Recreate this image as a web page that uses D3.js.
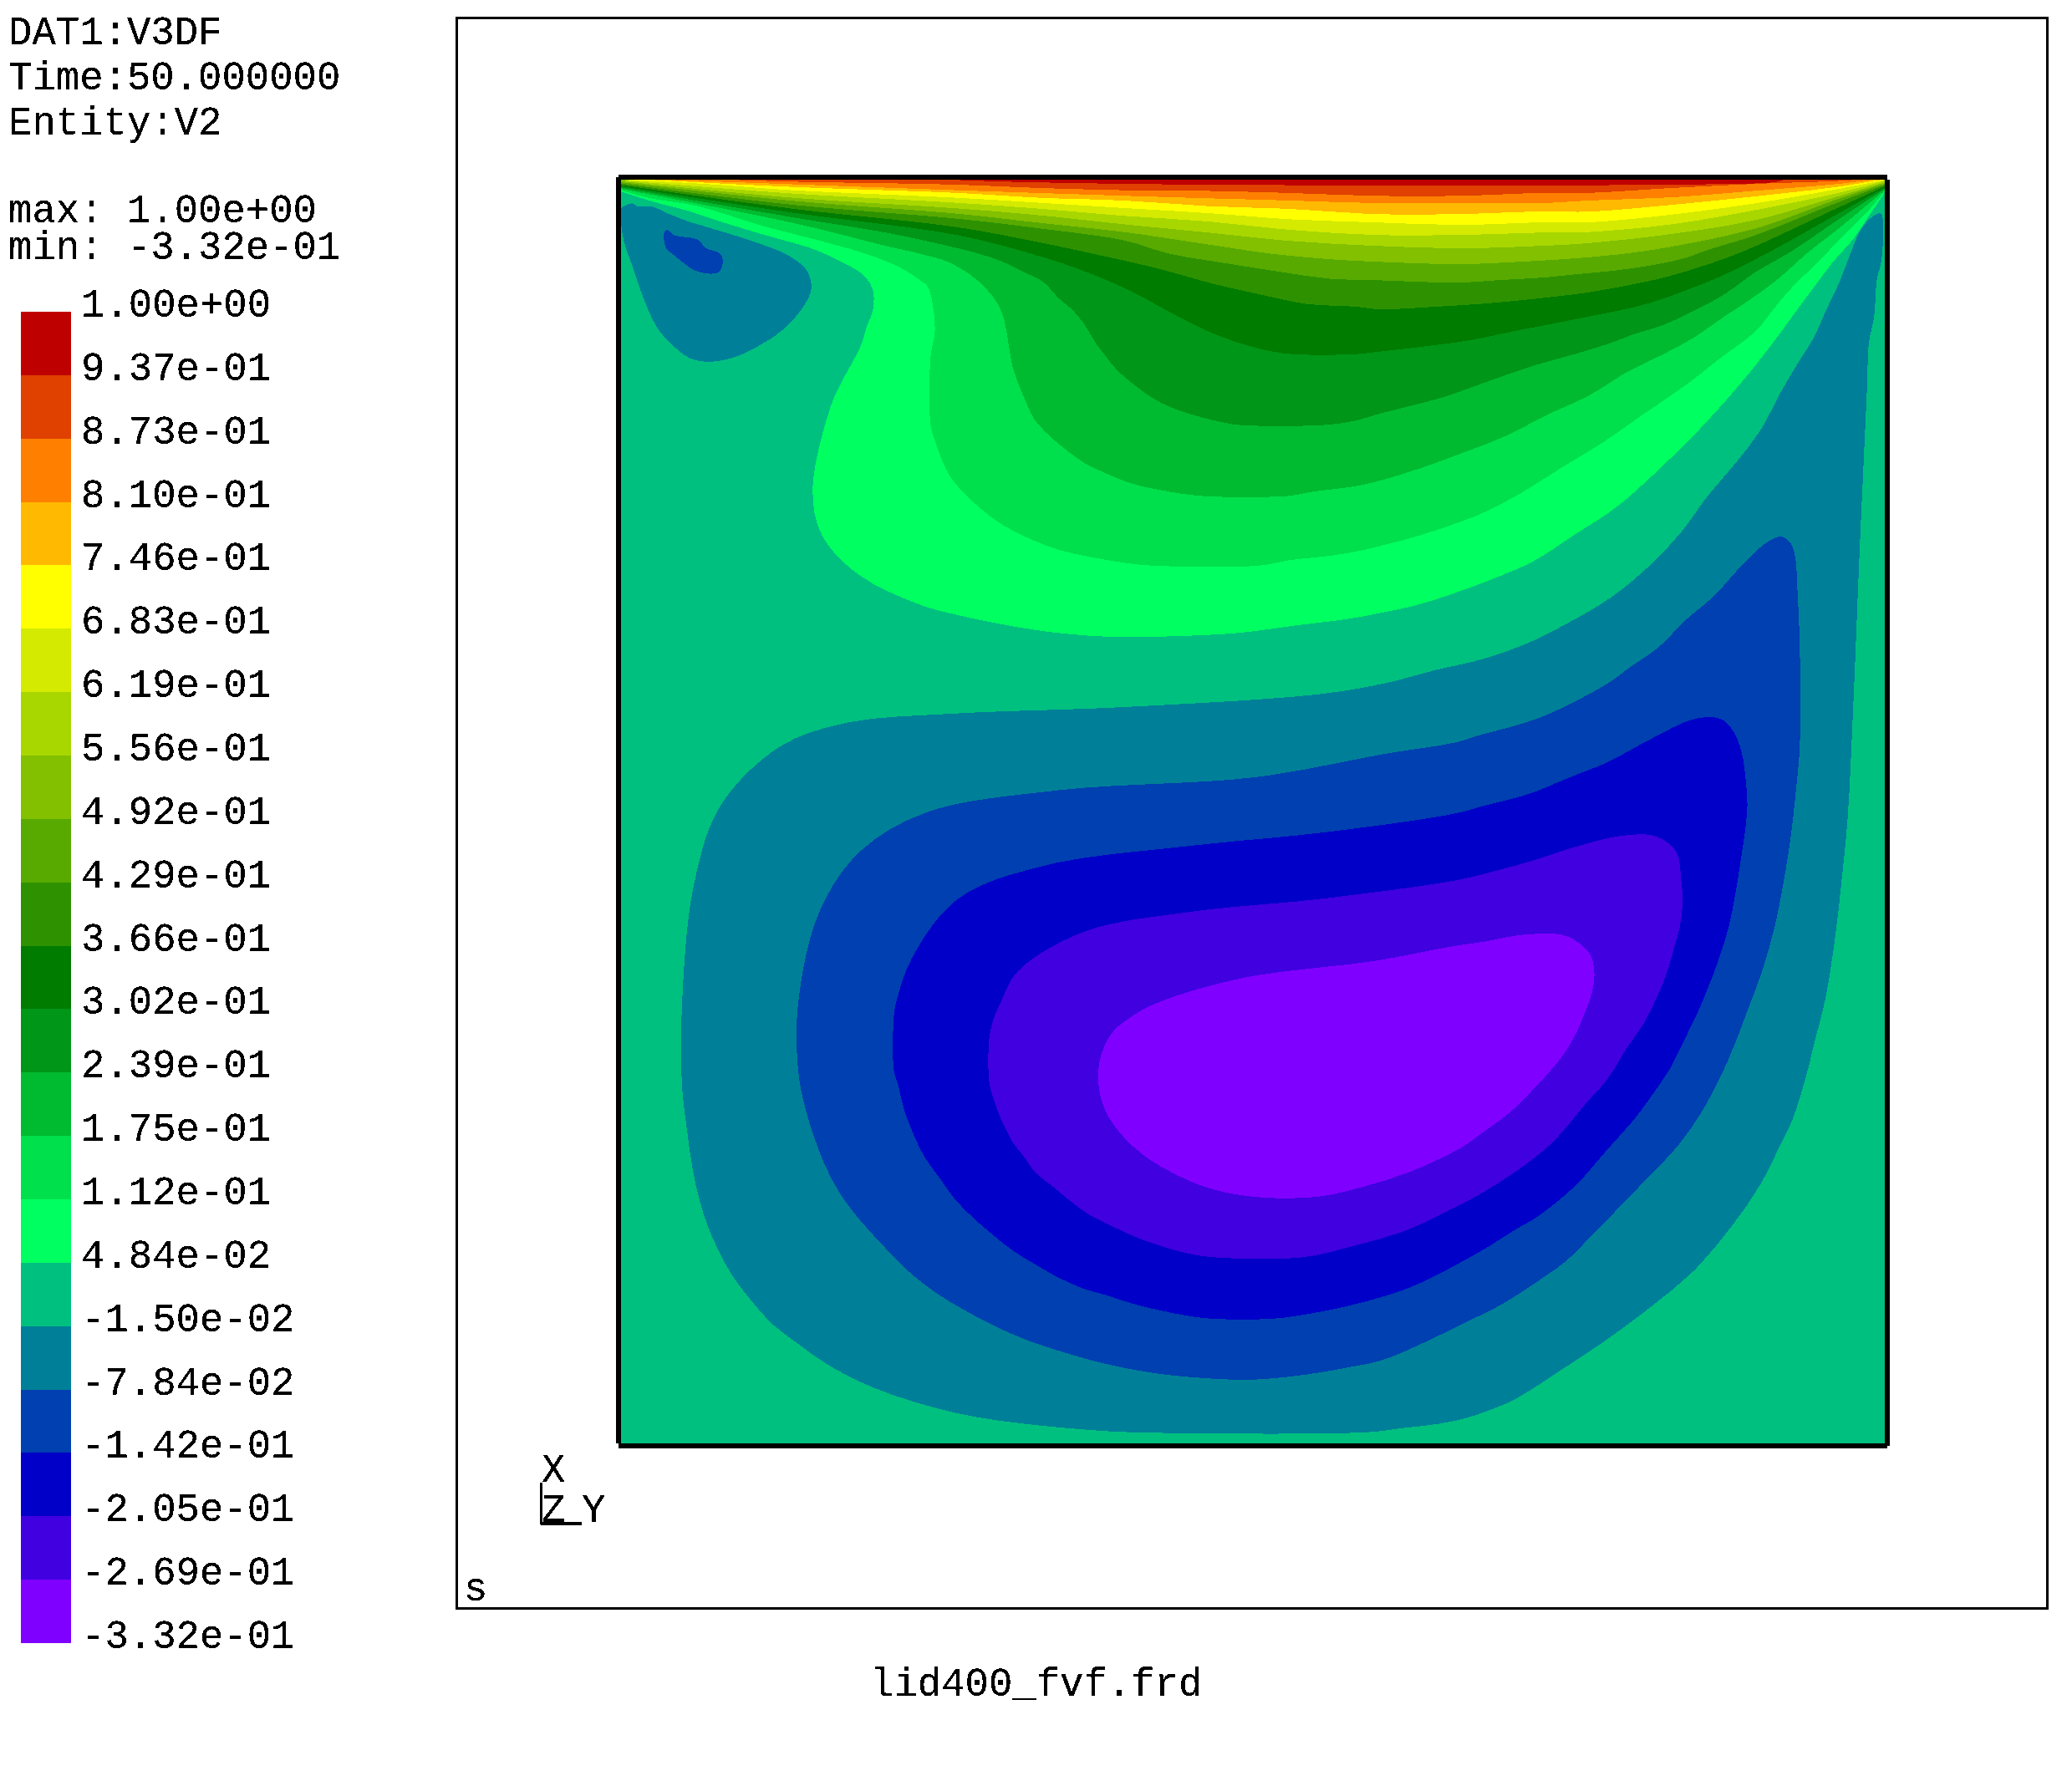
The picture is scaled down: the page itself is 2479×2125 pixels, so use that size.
<!DOCTYPE html>
<html>
<head>
<meta charset="utf-8">
<title>lid400_fvf.frd</title>
<script src="https://cdn.jsdelivr.net/npm/d3@7"></script>
<style>
  html, body { margin: 0; padding: 0; background: #fff; }
  svg { display: block; }
  text { font-family: "Liberation Mono", "DejaVu Sans Mono", monospace; font-size: 47.3px; fill: #000; }
</style>
</head>
<body>
<svg id="chart"></svg>
<script>
// header and footer text
const headerLines = ['DAT1:V3DF', 'Time:50.000000', 'Entity:V2'];
const rangeLines = ['max: 1.00e+00', 'min: -3.32e-01'];
const fileName = 'lid400_fvf.frd';
const viewLabel = 's';
const triadLabels = ['X', 'Z', 'Y'];

// legend, top to bottom
const legendLabels = ['1.00e+00', '9.37e-01', '8.73e-01', '8.10e-01', '7.46e-01', '6.83e-01', '6.19e-01',
    '5.56e-01', '4.92e-01', '4.29e-01', '3.66e-01', '3.02e-01', '2.39e-01', '1.75e-01', '1.12e-01',
    '4.84e-02', '-1.50e-02', '-7.84e-02', '-1.42e-01', '-2.05e-01', '-2.69e-01', '-3.32e-01'];
const bandColors = ['#bf0000', '#e04000', '#ff8000', '#ffb900', '#ffff00', '#d4ea00', '#a8d700', '#82c000',
    '#58aa00', '#2e9200', '#007c00', '#009617', '#00bb30', '#00e04c', '#00ff60', '#00c080', '#008098',
    '#0040b0', '#0000c8', '#4000e0', '#8000ff'];

// contours read off the cavity, as [distance from left wall, depth below the lid]
// lower edge of each band that hangs from the lid, band index = position in bandColors
const lid1 = [[248,0],[300,1.7],[444,3.8],[786,3.8],[874,1.7],[880,0]];
const lid2 = [[80,0],[130,1.5],[254,3.8],[317,6.3],[381,8],[444,8.5],[507,10.1],[570,12.2],[634,12.2],[697,10],[732,10],[795,6.3],[858,3.2],[920,1],[935,0]];
const lid3 = [[32,0],[130,3.5],[254,8],[317,10.1],[381,12.2],[444,14.1],[507,15.8],[570,17.7],[634,17.7],[697,17.7],[732,15.8],[795,13.3],[858,8.4],[921,3.2],[947,0]];
const lid4 = [[20,0],[130,5.5],[254,10],[317,13.7],[381,15.8],[444,20],[507,22.2],[570,26],[634,26],[697,24],[732,24.2],[795,19],[858,12.6],[921,5.3],[950,0.5]];
const lid5 = [[10,0.5],[60,3],[130,8],[254,13.7],[317,17.5],[381,21.5],[444,25.3],[507,30],[570,32.3],[634,34.2],[697,32.3],[732,32.3],[795,26.4],[858,17.9],[921,7],[952,1]];
const lid6 = [[6,1],[130,10.5],[254,17.5],[317,22],[381,27.4],[444,31.6],[507,38],[570,41.8],[634,41.8],[697,40],[732,39.6],[795,33.7],[858,23],[921,10],[954,1.5]];
const lid7 = [[3,1.5],[130,13.7],[254,21.7],[317,27],[381,33.8],[444,40],[507,46.4],[570,50],[634,51.9],[697,50],[732,48],[795,41],[858,30.6],[921,12.5],[956,2]];
const lid8 = [[0,2],[130,16],[254,25.7],[317,32.7],[381,39.7],[444,49],[491,55.9],[534,60],[570,62],[634,63.9],[678,62.2],[715,60],[755,56.5],[795,50.6],[858,37],[921,14.5],[956,3]];
const lid9 = [[0,3],[130,19],[254,29.5],[317,36.9],[381,46],[414.5,55.9],[458,63.3],[498,69.6],[536,74.9],[570,76],[634,77.8],[664,76],[698,74],[721,71.7],[753,68.6],[782,64.3],[806,59],[820,53.8],[858,42],[921,17],[956,4]];
const lid10 = [[0,4],[130,22],[254,35.9],[317,47.5],[356.5,55.9],[403,66.4],[449,79],[482,86.5],[518,93.9],[555,96],[574,98],[618,96],[651,93.9],[676,91.7],[696,89.6],[728,85.8],[761,80.1],[790,73.8],[818,65.4],[850,53.8],[921,21],[956,5]];
const lid11 = [[0,5],[130,25],[254,41.8],[310,55.9],[346,67.5],[386,84.4],[413,99],[447,116],[482,127.6],[506,131.8],[555,132],[574,130],[605,126.5],[643,121.3],[679,113.9],[728,104.4],[776,93.9],[812,81.2],[835,71.7],[870,54],[921,25.5],[956,6]];
const lid12 = [[0,6],[130,28.5],[200,40],[254,51.7],[274,57],[289,62.2],[304,69.6],[319,77],[331,89.6],[341,98],[350,108.6],[359,123.4],[367,134],[375.5,144.4],[388,155],[401,164.5],[415.5,172],[437,179.2],[454.5,183.4],[468,185.6],[531.5,185.6],[555,182.4],[574,177],[622,164.5],[658,151.8],[692,140.2],[722,131.8],[749,123.4],[766,117],[789,109.7],[812,99],[835,86.5],[858,70],[886,53.8],[921,30],[956,7]];
const lid13 = [[0,7],[130,32.7],[200,50],[226,56],[247,62],[264,71.7],[276,82.3],[285,94],[290,106.5],[293,123.4],[296.4,142.3],[301.7,157],[307,169.7],[312,180.3],[321,190.8],[333,201.4],[350,214],[365,221.4],[386,229.8],[409,235],[440,239.3],[504,239.3],[524,236],[555,232],[574,227.7],[605,218.2],[637,206.6],[669,194],[700,178.2],[732,163.4],[763,144.4],[789,131.8],[812,119.2],[835,103.3],[854,90.7],[873,77],[898,55],[921,37],[956,8]];
const lid14 = [[0,8],[22,14],[58,20],[106.5,34.8],[155,47.4],[191,58],[215,68.5],[226,76],[232,81],[236,96],[237.4,115],[234.2,134],[234.2,185.6],[237.4,197],[242.7,212],[249,224.6],[257.4,235],[272,248.8],[289,261.4],[310,272],[331,280],[356.5,285.7],[382,290],[403,292],[482,292],[506,287.8],[536,284.6],[555,281.5],[574,277.2],[605,268.8],[647.5,254],[679,238.2],[711,218.2],[742,199.3],[774,177],[806,155],[833,133.9],[858,114.9],[875,93.9],[890,77],[902.6,65.4],[921,46],[943,24],[956,9]];
const lid15 = [[0,9],[22,16],[53,24.3],[75,31.6],[99,39],[121,45.3],[143,51.6],[167,62.2],[184,72.7],[190.5,83.3],[190.5,99],[186,110.7],[181.5,125.4],[174,140],[167,152.8],[158.5,171.8],[145,234],[152,269],[180,299],[226,321.5],[253,329],[281,335],[319,341.5],[369,345.8],[437,344.7],[470,342.6],[510,337.3],[552,332],[574,327.8],[599,322.6],[627,314],[658,302.6],[690,288.8],[721,268.8],[753,247.7],[784,220.3],[816,188.7],[848,152.9],[873,121.3],[890,98],[902.6,81.2],[917,62],[932,45.3],[942.6,29.5],[955,11.6]];

// closed blobs of negative velocity
const corner17 = [[0,22],[8.5,17.9],[12,20],[24,20.5],[37.5,26.4],[51,31.6],[65,35.8],[99,46.4],[126,57],[140.4,68.5],[144,82.2],[138,95.9],[123.4,112.8],[106.5,124.4],[87,133.9],[67.8,137.7],[52,135],[36,122.3],[26.6,110.7],[17,89.6],[9.7,68.5],[2.4,47.4],[0,32.7]];
const corner18 = [[32.7,40],[35,38],[40,42],[58,45.3],[64,51.6],[76,57],[74.5,69.6],[58,69.6],[40,57],[34,51.6]];
const main17 = [[953,25.7],[953.6,60],[950,76],[947.9,104],[944,123],[942.6,157],[937,280],[932,401.6],[928,482],[923.6,528],[918.3,574.5],[911,620],[903,652],[896,680],[886,711.5],[879,726],[862,760],[840,792],[812,825],[780,852],[745,878],[715,898],[694,911.8],[675,923.4],[660,929.7],[639,937],[618,941.3],[590.6,944.5],[564,947.6],[386,947.6],[350,945.5],[306,941.3],[268,936],[236,928.7],[205,919.2],[179,908.6],[154,895],[133,880],[114,865.4],[99,848.6],[84.5,829.6],[74,810.6],[65.6,791.6],[59,770.6],[54,747.4],[49.8,718],[46.2,686],[46.2,623],[55,534],[75,474],[120,429],[170,411],[250,404],[380,399],[530,389],[580,380.5],[616,371],[652,362.6],[685,351],[717,335],[749,316],[778,292],[802,266.7],[822,239.3],[843.5,214],[862.5,188.7],[877,161.3],[892,136],[902.6,119],[911,100],[921.5,78],[930,55.9],[937.3,39],[944.7,29.5]];
const main18 = [[877,270],[884,274],[888,284],[890,312],[891.6,349],[892,401.6],[891.5,433],[889,460],[886.5,484],[883,510],[879,534],[873,564],[863.5,598],[852,629],[838,665],[820,701],[801,729],[770,762],[735,798],[715,818],[694,833],[666.5,850.7],[637,865.4],[607,880],[576,893],[553,898],[515,904.4],[482,907.6],[458,907.6],[407,903.4],[365,895.5],[340,888.6],[310,879],[281,866.5],[259.5,855],[238,842],[217,825.4],[196,804],[179,785],[165,766],[154,745],[146,724],[139,701],[134,673.6],[134,623],[150,554],[180,509],[230,479],[330,462],[480,452],[580,434],[631,425.8],[652,419.5],[673,414],[700,405],[746.5,381],[763,369],[784.5,354],[805.6,333],[826.7,315],[847.7,292],[864.6,276]];
const main19 = [[812,408],[832,408],[841.4,417.4],[847.7,433],[851,456],[852,475],[850,495],[847,515],[843,540],[838,565],[830,591],[822,612],[814,631],[803.5,652.5],[793,673.5],[780,692.5],[767.6,709.4],[745,735],[722,761],[694,784],[677,794],[654,808.5],[626,824],[597,838],[560,849.6],[526,857],[494,861.6],[446,861.6],[426,859],[392,851.7],[365,843.3],[350,839],[331,830.6],[314,821],[297,810.6],[281,798],[266,785],[252,770.6],[241.6,756],[232,743],[226,732.6],[219.5,718],[214,703],[210,686],[206.4,673.6],[206.4,633],[208,623],[220,589],[255,544],[320,519],[430,504],[530,494],[630.6,479.6],[654,473.3],[686.5,464.8],[718,452],[746.5,440.6],[778,423.7]];
const main20 = [[756,496.5],[782,496.5],[798,508],[802,530],[803,548],[801,565],[797,580],[792,597.6],[784.5,616.6],[774,637.7],[761,656.7],[746.5,680],[730,698.8],[704,729],[675,751.6],[650,767.4],[624,781],[591,796],[555,806.4],[515,815.3],[450,815.3],[426,811.7],[392,801],[365,788.5],[354,783],[340,772.7],[327,762],[314,751.6],[304,738],[296.4,728.4],[290,715.8],[286,707.3],[281.6,694.7],[278.5,682],[278.5,650.4],[281.6,635.6],[287,623],[300,599],[350,569],[430,554],[530,544],[630.6,530.2],[662,522.8],[692,514.4],[718,505.9]];
const main21 = [[712,571.3],[723.4,576.6],[733,586],[736,597],[736,607],[733,620],[728,633],[723.4,644],[715,658.8],[705.4,671.4],[692,686.2],[673,705.2],[656,717.8],[635,732.6],[596.9,750.5],[561,762],[526,769.5],[479,769.5],[445,763],[417.7,751.6],[396.6,739],[380,724],[369,709.4],[362,690],[362,667],[371,646],[384,634.6],[405,623],[470,604],[570,591],[630.6,579.7],[652,576.6],[682,571.3]];

const width = 2479, height = 2125;
const cavitySize = 956;

const svg = d3.select('#chart').attr('width', width).attr('height', height);

// thresholded so the glyphs keep the hard pixel edge of the original
const defs = svg.append('defs');
const hard = defs.append('filter').attr('id', 'hardText')
    .attr('x', 0).attr('y', 0).attr('width', 1).attr('height', 1).attr('color-interpolation-filters', 'sRGB');
hard.append('feComponentTransfer').append('feFuncA').attr('type', 'discrete').attr('tableValues', '0 1 1');

defs.append('clipPath').attr('id', 'cavityClip').append('rect')
    .attr('x', 743).attr('y', 215).attr('width', 1512).attr('height', 1512);

const xScale = d3.scaleLinear().domain([0, cavitySize]).range([743, 2255]);
const yScale = d3.scaleLinear().domain([0, cavitySize]).range([215, 1727]);
const legendScale = d3.scaleLinear().domain([0, bandColors.length]).range([373, 1966]);

// outer frame
svg.append('rect').attr('x', 546).attr('y', 21).attr('width', 1903).attr('height', 1903)
    .attr('fill', 'none').attr('stroke', '#000').attr('stroke-width', 3).attr('shape-rendering', 'crispEdges');

// cavity
const field = svg.append('g').attr('clip-path', 'url(#cavityClip)').attr('shape-rendering', 'crispEdges');
field.append('rect').attr('x', xScale(0)).attr('y', yScale(0))
    .attr('width', xScale(cavitySize) - xScale(0)).attr('height', yScale(cavitySize) - yScale(0))
    .attr('fill', bandColors[15]);

const smooth = d3.line().x(d => xScale(d[0])).y(d => yScale(d[1])).curve(d3.curveCatmullRom.alpha(0.5));
const smoothClosed = d3.line().x(d => xScale(d[0])).y(d => yScale(d[1])).curve(d3.curveCatmullRomClosed.alpha(0.5));

// nested blobs, outermost first
const blobs = [
    {pts: main17, band: 16}, {pts: main18, band: 17}, {pts: main19, band: 18}, {pts: main20, band: 19}, {pts: main21, band: 20},
    {pts: corner17, band: 16}, {pts: corner18, band: 17}
];
field.selectAll('.blob').data(blobs).join('path')
    .attr('class', 'blob')
    .attr('d', d => smoothClosed(d.pts))
    .attr('fill', d => bandColors[d.band]);

// bands hanging from the lid, deepest first, each closed along the lid
const lidBands = [lid15, lid14, lid13, lid12, lid11, lid10, lid9, lid8, lid7, lid6, lid5, lid4, lid3, lid2, lid1];
field.selectAll('.lid-band').data(lidBands).join('path')
    .attr('class', 'lid-band')
    .attr('d', d => `${smooth(d)}L${xScale(cavitySize)},${yScale(0)}L${xScale(0)},${yScale(0)}L${xScale(d[0][0])},${yScale(0)}Z`)
    .attr('fill', (d, i) => bandColors[14 - i]);

// cavity border, only drawn as thick lines
const border = svg.append('g').attr('stroke', '#000').attr('stroke-width', 6).attr('shape-rendering', 'crispEdges');
border.append('line').attr('x1', 740).attr('x2', 2258).attr('y1', 212).attr('y2', 212);
border.append('line').attr('x1', 740).attr('x2', 2258).attr('y1', 1730).attr('y2', 1730);
border.append('line').attr('x1', 740).attr('x2', 740).attr('y1', 212).attr('y2', 1727);
border.append('line').attr('x1', 2258).attr('x2', 2258).attr('y1', 215).attr('y2', 1730);

// legend
svg.append('g').selectAll('rect').data(bandColors).join('rect')
    .attr('x', 25).attr('width', 60)
    .attr('y', (d, i) => legendScale(i))
    .attr('height', (d, i) => legendScale(i + 1) - legendScale(i))
    .attr('fill', d => d)
    .attr('shape-rendering', 'crispEdges');

const texts = svg.append('g').attr('filter', 'url(#hardText)');
texts.selectAll('.legend-label').data(legendLabels).join('text')
    .attr('class', 'legend-label')
    .attr('x', 97)
    .attr('y', (d, i) => legendScale(i) + 6)
    .text(d => d);

texts.selectAll('.header').data(headerLines).join('text')
    .attr('class', 'header').attr('x', 10).attr('y', (d, i) => 53 + i * 54).text(d => d);
texts.selectAll('.range').data(rangeLines).join('text')
    .attr('class', 'range').attr('x', 10).attr('y', (d, i) => 266 + i * 43.5).style('white-space', 'pre').text(d => d);
texts.append('text').attr('x', 1041).attr('y', 2029).text(fileName);
texts.append('text').attr('x', 555).attr('y', 1915).text(viewLabel);

// orientation triad
const triadPos = [[648, 1773], [648, 1821], [696, 1821]];
texts.selectAll('.triad').data(triadLabels).join('text')
    .attr('class', 'triad')
    .attr('x', (d, i) => triadPos[i][0])
    .attr('y', (d, i) => triadPos[i][1])
    .text(d => d);
svg.append('line').attr('x1', 647).attr('x2', 647).attr('y1', 1774).attr('y2', 1824)
    .attr('stroke', '#000').attr('stroke-width', 3).attr('shape-rendering', 'crispEdges');
svg.append('line').attr('x1', 647).attr('x2', 696).attr('y1', 1823).attr('y2', 1823)
    .attr('stroke', '#000').attr('stroke-width', 4).attr('shape-rendering', 'crispEdges');
</script>
</body>
</html>
